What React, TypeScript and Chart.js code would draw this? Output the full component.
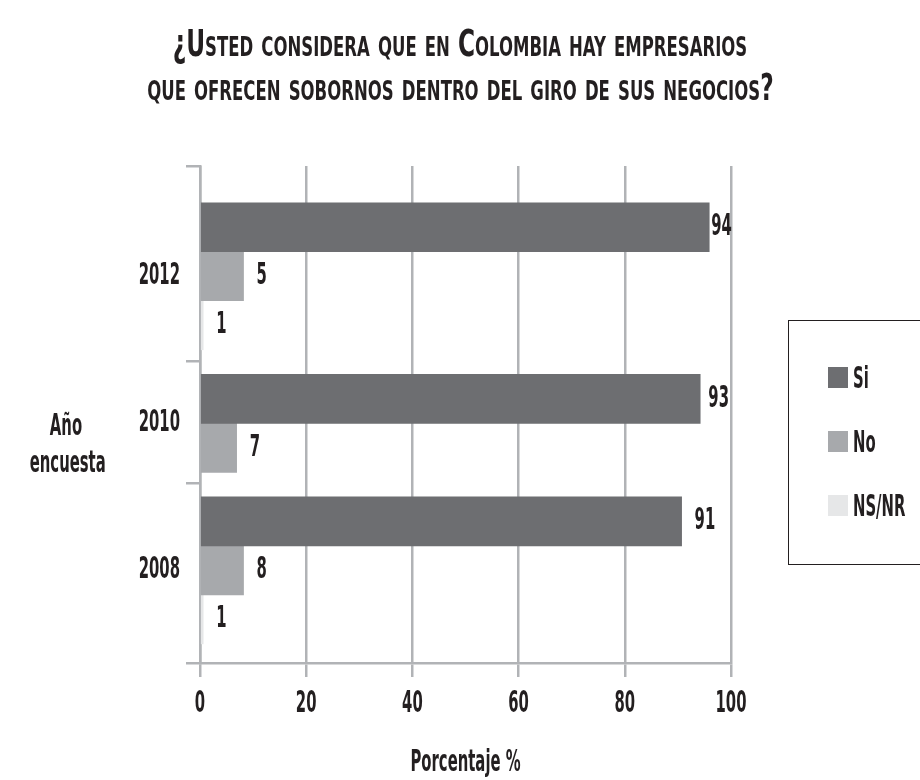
import React, { useEffect, useRef } from "react";
import { Chart, registerables } from "chart.js";

Chart.register(...registerables);

// ---- data ----
const years = ["2012", "2010", "2008"];
const yearPositions = [1, 2, 3];
const seriesNames = ["Si", "No", "NS/NR"];
const seriesColors = ["#6d6e71", "#a7a9ac", "#e6e7e8"];
const siValues = [95.9, 94.2, 90.7];
const noValues = [8.2, 6.9, 8.2];
const nsnrValues: (number | null)[] = [0.6, null, 0.6];
const siLabels = ["94", "93", "91"];
const noLabels = ["5", "7", "8"];
const nsnrLabels = ["1", "", "1"];
const xTickValues = [0, 20, 40, 60, 80, 100];
const yBoundaryMarks = [0.25, 1.576, 2.406, 3.63];
const titleLines = [
  "¿Usted considera que en Colombia hay empresarios",
  "que ofrecen sobornos dentro del giro de sus negocios?",
];
const yAxisTitle = ["Año", "encuesta"];
const xAxisTitle = "Porcentaje %";

const FONT = "'DejaVu Sans Condensed', 'DejaVu Sans', sans-serif";
const TEXT = "#231f20";
const GRID = "#b1b3b6";
const TEXT_SIZE = 30;
const TEXT_SX = 0.55;

const allValues = [siValues, noValues, nsnrValues];
const allLabels = [siLabels, noLabels, nsnrLabels];

function drawCondensed(
  ctx: CanvasRenderingContext2D,
  text: string,
  x: number,
  y: number,
  align: CanvasTextAlign
) {
  ctx.save();
  ctx.font = `bold ${TEXT_SIZE}px ${FONT}`;
  ctx.fillStyle = TEXT;
  ctx.textBaseline = "middle";
  ctx.textAlign = align;
  ctx.translate(x, y);
  ctx.scale(TEXT_SX, 1);
  ctx.fillText(text, 0, 0);
  ctx.restore();
}

function condensedWidth(ctx: CanvasRenderingContext2D, text: string) {
  ctx.save();
  ctx.font = `bold ${TEXT_SIZE}px ${FONT}`;
  const w = ctx.measureText(text).width * TEXT_SX;
  ctx.restore();
  return w;
}

const textPlugin = {
  id: "condensedText",
  afterDatasetsDraw(chart: any) {
    const ctx: CanvasRenderingContext2D = chart.ctx;
    const area = chart.chartArea;
    // value labels
    chart.data.datasets.forEach((_ds: any, di: number) => {
      const meta = chart.getDatasetMeta(di);
      meta.data.forEach((bar: any, j: number) => {
        const text = allLabels[di][j];
        if (!text) return;
        const { x, y } = bar.getProps(["x", "y"], true);
        if (!isFinite(x) || !isFinite(y)) return;
        const w = condensedWidth(ctx, text);
        let left = Math.min(x + 13, area.right - w - 2);
        left = Math.max(left, x + 2);
        drawCondensed(ctx, text, left, y, "left");
      });
    });
  },
  afterDraw(chart: any) {
    const ctx: CanvasRenderingContext2D = chart.ctx;
    const xs = chart.scales.x;
    const ys = chart.scales.y;
    years.forEach((yr, j) => {
      drawCondensed(ctx, yr, ys.right - 20, ys.getPixelForValue(yearPositions[j]), "right");
    });
    xTickValues.forEach((v) => {
      drawCondensed(ctx, String(v), xs.getPixelForValue(v), xs.top + 41, "center");
    });
    drawCondensed(ctx, xAxisTitle, (xs.left + xs.right) / 2, xs.top + 100, "center");
  },
};

export default function App() {
  const canvasRef = useRef<HTMLCanvasElement | null>(null);

  useEffect(() => {
    if (!canvasRef.current) return;
    const yTicks = [...yBoundaryMarks];
    const chart = new Chart(canvasRef.current, {
      type: "bar",
      data: {
        datasets: seriesNames.map((name, i) => ({
          label: name,
          data: years.map((_, j) => ({ x: allValues[i][j], y: yearPositions[j] })),
          backgroundColor: seriesColors[i],
          borderWidth: 0,
          barThickness: 49,
          skipNull: true,
        })) as any,
      },
      options: {
        indexAxis: "y",
        animation: false,
        responsive: true,
        maintainAspectRatio: false,
        layout: { padding: { top: 166, right: 189, left: 0, bottom: 0 } },
        plugins: {
          legend: { display: false },
          tooltip: { enabled: false },
          title: { display: false },
        },
        scales: {
          x: {
            type: "linear",
            min: 0,
            max: 100,
            afterBuildTicks: (axis: any) => {
              axis.ticks = xTickValues.map((v) => ({ value: v }));
            },
            grid: {
              color: GRID,
              lineWidth: 2.5,
              tickLength: 14,
              tickColor: GRID,
              offset: false,
            },
            border: { display: true, color: GRID, width: 2.5 },
            ticks: { display: false },
            afterFit: (scale: any) => {
              scale.height = 117;
            },
          },
          y: {
            type: "linear",
            reverse: true,
            offset: false,
            min: 0.25,
            max: 3.63,
            afterBuildTicks: (axis: any) => {
              axis.ticks = yTicks.map((v) => ({ value: v }));
            },
            afterFit: (scale: any) => {
              scale.width = 200;
            },
            grid: {
              offset: false,
              drawOnChartArea: false,
              drawTicks: true,
              tickLength: 14,
              lineWidth: 2.5,
              color: GRID,
              tickColor: GRID,
            },
            border: { display: true, color: GRID, width: 2.5 },
            ticks: { display: false, autoSkip: false },
          },
        },
      } as any,
      plugins: [textPlugin],
    });
    return () => chart.destroy();
  }, []);

  const condensedSpan = (text: string) => (
    <span
      style={{
        display: "inline-block",
        transform: `scaleX(${TEXT_SX})`,
        transformOrigin: "0 50%",
        fontSize: TEXT_SIZE,
        fontWeight: "bold",
        whiteSpace: "nowrap",
      }}
    >
      {text}
    </span>
  );

  return (
    <div
      style={{
        position: "fixed",
        left: 0,
        top: 0,
        width: 920,
        height: 780,
        background: "#ffffff",
        overflow: "hidden",
        fontFamily: FONT,
        color: TEXT,
      }}
    >
      <div style={{ position: "absolute", left: 0, top: 0, width: 920, height: 780 }}>
        <canvas ref={canvasRef} />
      </div>
      <div
        style={{
          position: "absolute",
          left: 0,
          top: 21,
          width: 920,
          textAlign: "center",
          fontSize: 38,
          lineHeight: "44px",
          fontVariant: "small-caps",
          fontWeight: "bold",
          whiteSpace: "nowrap",
          transform: "scaleX(0.68)",
          transformOrigin: "460px 0",
        }}
      >
        {titleLines.map((t) => (
          <div key={t}>{t}</div>
        ))}
      </div>
      <div
        style={{
          position: "absolute",
          left: 0,
          top: 406,
          width: 132,
          textAlign: "center",
          fontSize: TEXT_SIZE,
          lineHeight: "37px",
          fontWeight: "bold",
          transform: `scaleX(${TEXT_SX})`,
          transformOrigin: "66px 0",
          whiteSpace: "nowrap",
        }}
      >
        {yAxisTitle.map((t) => (
          <div key={t}>{t}</div>
        ))}
      </div>
      <div
        style={{
          position: "absolute",
          left: 788,
          top: 320,
          width: 160,
          height: 245,
          border: "1.5px solid #231f20",
          boxSizing: "border-box",
        }}
      >
        {seriesNames.map((name, i) => (
          <div
            key={name}
            style={{
              position: "absolute",
              left: 39,
              top: 46 + i * 64,
              height: 21,
              display: "flex",
              alignItems: "center",
            }}
          >
            <div style={{ width: 20, height: 21, background: seriesColors[i], flex: "none" }} />
            <div style={{ marginLeft: 5, height: 21, lineHeight: "21px" }}>{condensedSpan(name)}</div>
          </div>
        ))}
      </div>
    </div>
  );
}
